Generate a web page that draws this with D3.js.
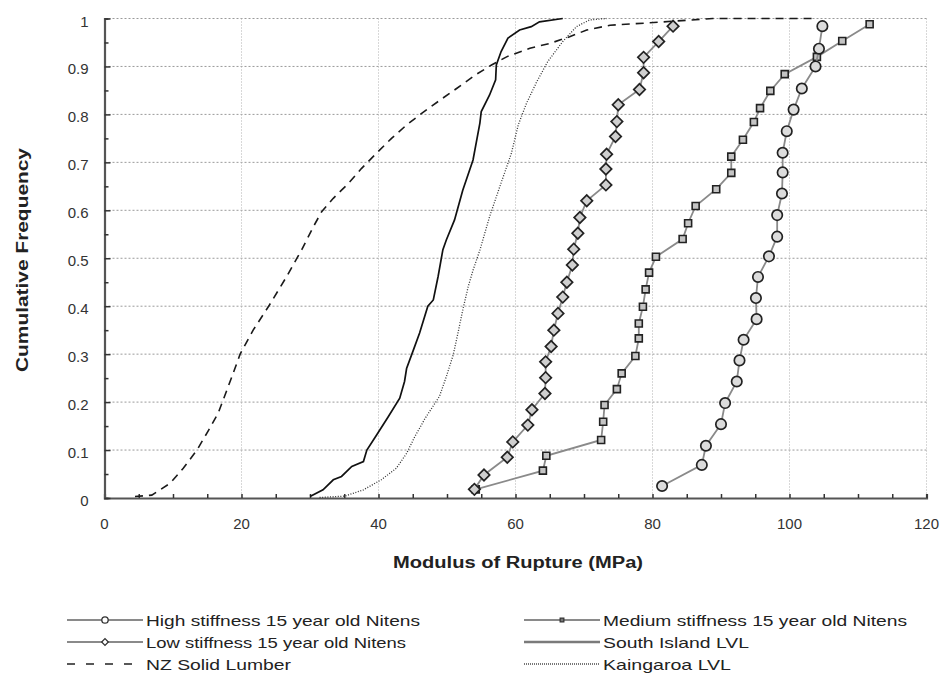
<!DOCTYPE html>
<html><head><meta charset="utf-8">
<script src="https://cdn.jsdelivr.net/npm/d3@7"></script>
<style>
body{margin:0;background:#fff;}
text{font-family:"Liberation Sans",Arial,sans-serif;}
</style></head>
<body><svg id="c" width="949" height="684"></svg>
<script>
// ---- data (MOR in MPa, cumulative frequency) ----
const highMOR = [81.4,87.2,87.8,90.0,90.6,92.3,92.7,93.3,95.2,95.1,95.4,97.0,98.2,98.2,98.9,99.0,99.0,99.6,100.6,101.8,103.8,104.3,104.8];
const highF   = [0.025,0.069,0.109,0.154,0.198,0.243,0.287,0.33,0.373,0.417,0.461,0.504,0.545,0.59,0.635,0.679,0.72,0.765,0.81,0.854,0.9,0.937,0.984];

const medMOR = [54.2,64.0,64.5,72.5,72.8,73.0,74.8,75.5,77.5,78.0,78.0,78.6,79.0,79.5,80.5,84.4,85.2,86.3,89.3,91.5,91.5,93.2,94.8,95.7,97.2,99.3,104.0,107.7,111.7];
const medF   = [0.018,0.057,0.088,0.121,0.159,0.194,0.227,0.26,0.296,0.333,0.364,0.399,0.435,0.47,0.503,0.54,0.573,0.609,0.644,0.678,0.712,0.747,0.784,0.813,0.849,0.884,0.92,0.953,0.988];

const lowMOR = [54.0,55.4,58.8,59.6,61.8,62.4,64.3,64.4,64.4,65.2,65.6,66.2,66.9,67.5,68.3,68.5,69.1,69.4,70.4,73.2,73.2,73.3,74.6,74.8,75.0,78.1,78.7,78.7,80.9,83.0];
const lowF   = [0.018,0.048,0.085,0.117,0.152,0.184,0.218,0.251,0.284,0.316,0.35,0.385,0.419,0.45,0.486,0.519,0.552,0.585,0.62,0.653,0.686,0.717,0.754,0.785,0.82,0.852,0.887,0.919,0.952,0.984];

const siMOR = [30.0,31.9,33.4,34.6,36.1,37.8,38.3,39.7,41.4,43.1,43.8,44.1,45.1,46.0,47.2,48.0,48.7,49.4,49.9,51.1,52.3,53.8,54.8,55.0,56.2,57.1,57.2,57.9,58.9,60.6,62.3,63.5,66.9];
const siF   = [0.003,0.017,0.038,0.045,0.066,0.076,0.1,0.131,0.169,0.208,0.243,0.27,0.309,0.344,0.4,0.413,0.462,0.518,0.538,0.58,0.642,0.705,0.782,0.806,0.84,0.872,0.903,0.931,0.959,0.976,0.983,0.993,1.0];

const kgMOR = [31.4,35.1,37.8,40.4,42.6,44.1,45.3,46.8,48.9,49.9,50.9,51.6,52.3,53.1,53.8,54.8,56.2,57.7,59.4,60.4,61.6,63.1,64.7,66.9,68.9,70.8,73.3];
const kgF   = [0.001,0.004,0.017,0.038,0.062,0.093,0.128,0.166,0.212,0.253,0.298,0.344,0.392,0.441,0.475,0.517,0.586,0.649,0.719,0.778,0.823,0.868,0.91,0.952,0.983,0.997,1.0];

const nzMOR = [4.45,6.9,9.6,11.5,13.5,15.1,16.6,18.6,19.8,21.7,24.1,26.6,28.8,30.5,31.7,33.4,35.6,37.5,39.7,41.9,44.1,46.3,49.0,51.4,54.1,56.5,58.7,62.1,65.0,67.9,70.4,73.8,79.6,88.8,103.4];
const nzF   = [0.003,0.006,0.031,0.062,0.1,0.139,0.177,0.253,0.3,0.35,0.403,0.462,0.518,0.566,0.597,0.625,0.656,0.687,0.719,0.75,0.778,0.802,0.83,0.854,0.882,0.903,0.92,0.938,0.948,0.962,0.976,0.986,0.991,1.0,1.0];

const xTicks = [0,20,40,60,80,100,120];
const yTicks = [0,0.1,0.2,0.3,0.4,0.5,0.6,0.7,0.8,0.9,1];
const seriesNames = ["High stiffness 15 year old Nitens","Medium stiffness 15 year old Nitens","Low stiffness 15 year old Nitens","South Island LVL","NZ Solid Lumber","Kaingaroa LVL"];

// ---- layout ----
const svg = d3.select("#c");
const L=104.5, R=926.5, T=18.5, B=498;
const x = d3.scaleLinear().domain([0,120]).range([L,R]);
const y = d3.scaleLinear().domain([0,1]).range([B,T]);

// grid
const g = svg.append("g");
g.selectAll(".hg").data(yTicks.slice(1)).join("line")
  .attr("x1",L).attr("x2",R).attr("y1",d=>y(d)).attr("y2",d=>y(d))
  .attr("stroke","#9a9a9a").attr("stroke-width",1).attr("stroke-dasharray","2,2");
g.selectAll(".vg").data(xTicks.slice(1)).join("line")
  .attr("y1",T).attr("y2",B).attr("x1",d=>x(d)).attr("x2",d=>x(d))
  .attr("stroke","#b0b0b0").attr("stroke-width",1).attr("stroke-dasharray","1,2");

// axes
const xAxis = d3.axisBottom(x).tickValues(d3.range(0,121,5)).tickSize(-4).tickFormat("");
const yAxis = d3.axisLeft(y).tickValues(d3.range(0,1.001,0.05)).tickSize(-4).tickFormat("");
const ax = svg.append("g").attr("transform",`translate(0,${B})`).call(xAxis);
const ay = svg.append("g").attr("transform",`translate(${L},0)`).call(yAxis);
[ax,ay].forEach(a=>{a.select(".domain").attr("stroke","#555").attr("stroke-width",2.2);
  a.selectAll(".tick line").attr("stroke","#333").attr("stroke-width",1.5);});
ay.selectAll(".tick line").attr("x2",d=>Math.abs((d*10)-Math.round(d*10))<1e-6?6:4);

// tick labels
svg.selectAll(".xl").data(xTicks).join("text")
  .attr("x",d=>x(d)).attr("y",B+31).attr("text-anchor","middle")
  .attr("font-size",15).attr("fill","#333").text(d=>d);
svg.selectAll(".yl").data(yTicks).join("text")
  .attr("x",L-16).attr("y",d=>y(d)+8).attr("text-anchor","end")
  .attr("font-size",15).attr("fill","#333").text(d=>d3.format("")(+d.toFixed(1)));

// axis titles
svg.append("text").attr("x",518).attr("y",568).attr("text-anchor","middle")
  .attr("font-size",16).attr("font-weight","bold").attr("fill","#222")
  .attr("textLength",250).attr("lengthAdjust","spacingAndGlyphs").text("Modulus of Rupture (MPa)");
svg.append("text").attr("transform","translate(28,260) rotate(-90)").attr("text-anchor","middle")
  .attr("font-size",16).attr("font-weight","bold").attr("fill","#222")
  .attr("textLength",224).attr("lengthAdjust","spacingAndGlyphs").text("Cumulative Frequency");

// lines
const line = d3.line().x(d=>x(d[0])).y(d=>y(d[1]));
const zip=(a,b)=>a.map((v,i)=>[v,b[i]]);
const plot = svg.append("g");
plot.append("path").datum(zip(nzMOR,nzF)).attr("d",line).attr("fill","none")
  .attr("stroke","#1a1a1a").attr("stroke-width",1.6).attr("stroke-dasharray","8,6");
plot.append("path").datum(zip(kgMOR,kgF)).attr("d",line).attr("fill","none")
  .attr("stroke","#333").attr("stroke-width",1.3).attr("stroke-dasharray","1,1.6");
plot.append("path").datum(zip(siMOR,siF)).attr("d",line).attr("fill","none")
  .attr("stroke","#111").attr("stroke-width",1.7);

const square = d3.symbol().type(d3.symbolSquare).size(49);
const diamondSq = d3.symbol().type(d3.symbolSquare).size(66);

function markerSeries(xs,ys,kind){
  const data = zip(xs,ys);
  plot.append("path").datum(data).attr("d",line).attr("fill","none")
    .attr("stroke","#8a8a8a").attr("stroke-width",1.8);
  const gg = plot.append("g");
  data.forEach(d=>{
    if(kind==="circle"){
      gg.append("circle").attr("cx",x(d[0])).attr("cy",y(d[1])).attr("r",5.2)
        .attr("fill","#dcdcdc").attr("stroke","#222").attr("stroke-width",1.7);
    } else if(kind==="diamond"){
      gg.append("path").attr("d",diamondSq).attr("transform",`translate(${x(d[0])},${y(d[1])}) rotate(45)`)
        .attr("fill","#cfcfcf").attr("stroke","#222").attr("stroke-width",1.7);
    } else {
      gg.append("path").attr("d",square).attr("transform",`translate(${x(d[0])},${y(d[1])})`)
        .attr("fill","#c4c4c4").attr("stroke","#222").attr("stroke-width",1.6);
    }
  });
}
markerSeries(medMOR,medF,"square");
markerSeries(lowMOR,lowF,"diamond");
markerSeries(highMOR,highF,"circle");

// legend
const leg = svg.append("g");
const items = [
  {name:seriesNames[0],col:0,row:0,kind:"circle",w:274},
  {name:seriesNames[1],col:1,row:0,kind:"square",w:304},
  {name:seriesNames[2],col:0,row:1,kind:"diamond",w:260},
  {name:seriesNames[3],col:1,row:1,kind:"solid",w:146},
  {name:seriesNames[4],col:0,row:2,kind:"dash",w:145},
  {name:seriesNames[5],col:1,row:2,kind:"dot",w:128}];
const colX=[67,524], rowY=[620,642,664], symW=76;
items.forEach(it=>{
  const x0=colX[it.col], yy=rowY[it.row];
  const l = leg.append("line").attr("x1",x0).attr("x2",x0+symW).attr("y1",yy).attr("y2",yy);
  if(it.kind==="circle"||it.kind==="square"||it.kind==="diamond"){
    l.attr("stroke","#8a8a8a").attr("stroke-width",1.8);
    const cx=x0+symW/2;
    if(it.kind==="circle") leg.append("circle").attr("cx",cx).attr("cy",yy).attr("r",3.2)
      .attr("fill","#fff").attr("stroke","#333").attr("stroke-width",1.3);
    if(it.kind==="diamond") leg.append("path").attr("d",d3.symbol().type(d3.symbolSquare).size(22))
      .attr("transform",`translate(${cx},${yy}) rotate(45)`).attr("fill","#fff").attr("stroke","#333").attr("stroke-width",1.3);
    if(it.kind==="square") leg.append("path").attr("d",d3.symbol().type(d3.symbolSquare).size(14))
      .attr("transform",`translate(${cx},${yy})`).attr("fill","#777").attr("stroke","#333").attr("stroke-width",1.2);
  } else if(it.kind==="solid"){
    l.attr("stroke","#7a7a7a").attr("stroke-width",2.6);
  } else if(it.kind==="dash"){
    l.attr("stroke","#222").attr("stroke-width",1.6).attr("stroke-dasharray","8,11");
  } else {
    l.attr("stroke","#777").attr("stroke-width",2).attr("stroke-dasharray","1,1");
  }
  leg.append("text").attr("x",x0+symW+3).attr("y",yy+5.5).attr("font-size",15)
    .attr("fill","#222").attr("textLength",it.w).attr("lengthAdjust","spacingAndGlyphs").text(it.name);
});
</script></body></html>
